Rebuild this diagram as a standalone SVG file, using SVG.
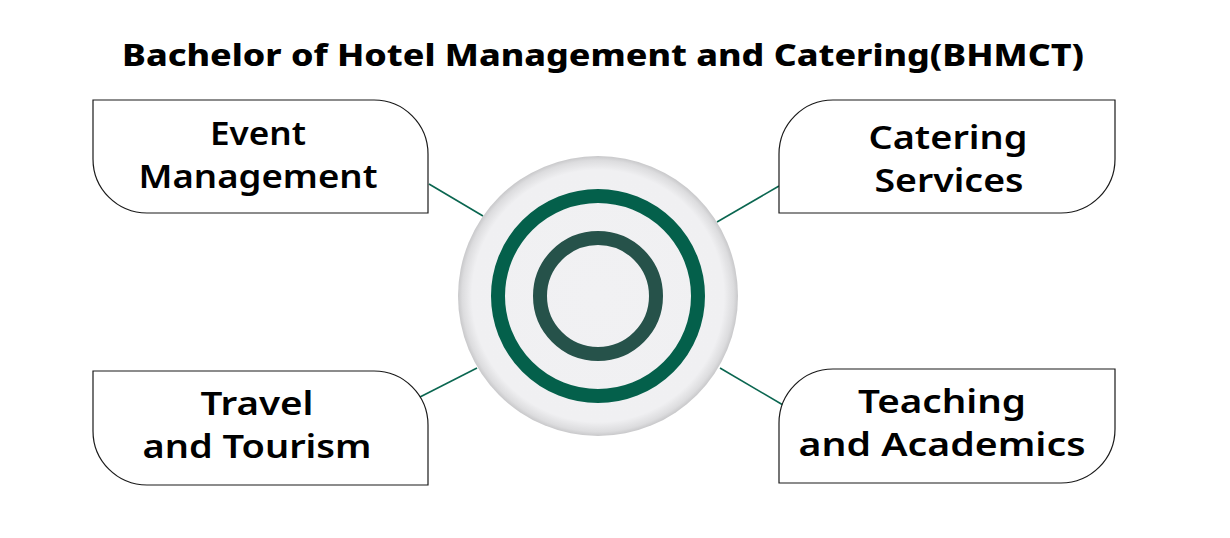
<svg xmlns="http://www.w3.org/2000/svg" width="1230" height="538" viewBox="0 0 1230 538">
<style>
.box{fill:#fff;stroke:#1a1a1a;stroke-width:1.2}
.lbl{font-family:"Noto Sans","Liberation Sans",sans-serif;font-weight:600;font-size:33px;fill:#000;text-anchor:middle}
.title{font-family:"Noto Sans","Liberation Sans",sans-serif;font-weight:800;font-size:31px;fill:#000;text-anchor:middle}
.conn{stroke:#0a6650;stroke-width:1.6;fill:none}
</style>
<defs>
<radialGradient id="disc" cx="0.5" cy="0.5" r="0.5">
<stop offset="0" stop-color="#f1f1f3"/>
<stop offset="0.9" stop-color="#f0f0f2"/>
<stop offset="0.97" stop-color="#dcdcde"/>
<stop offset="1" stop-color="#c8c8ca"/>
</radialGradient>
</defs>
<rect width="1230" height="538" fill="#fff"/>
<text class="title" x="603" y="66" textLength="962" lengthAdjust="spacingAndGlyphs">Bachelor of Hotel Management and Catering(BHMCT)</text>
<g id="connectors">
<line class="conn" x1="429" y1="184" x2="483" y2="216"/>
<line class="conn" x1="779" y1="186" x2="717" y2="222"/>
<line class="conn" x1="420" y1="397" x2="477" y2="368"/>
<line class="conn" x1="720" y1="368" x2="783" y2="405"/>
</g>
<g id="center">
<circle cx="598" cy="296" r="140" fill="url(#disc)"/>
<circle cx="598" cy="296" r="100" fill="none" stroke="#04604b" stroke-width="14"/>
<circle cx="598" cy="296" r="58" fill="none" stroke="#26524a" stroke-width="14"/>
</g>
<g id="event">
<path class="box" d="M93 100 H374 A54 54 0 0 1 428 154 V213 H147 A54 54 0 0 1 93 159 Z"/>
<text class="lbl" x="258" y="145" textLength="96" lengthAdjust="spacingAndGlyphs">Event</text>
<text class="lbl" x="258" y="188" textLength="239" lengthAdjust="spacingAndGlyphs">Management</text>
</g>
<g id="catering">
<path class="box" d="M833 100 H1115 V159 A54 54 0 0 1 1061 213 H779 V154 A54 54 0 0 1 833 100 Z"/>
<text class="lbl" x="948" y="149" textLength="159" lengthAdjust="spacingAndGlyphs">Catering</text>
<text class="lbl" x="949" y="192" textLength="149" lengthAdjust="spacingAndGlyphs">Services</text>
</g>
<g id="travel">
<path class="box" d="M93 371 H374 A54 54 0 0 1 428 425 V485 H147 A54 54 0 0 1 93 431 Z"/>
<text class="lbl" x="257" y="415" textLength="113" lengthAdjust="spacingAndGlyphs">Travel</text>
<text class="lbl" x="257" y="458" textLength="229" lengthAdjust="spacingAndGlyphs">and Tourism</text>
</g>
<g id="teaching">
<path class="box" d="M833 369 H1115 V429 A54 54 0 0 1 1061 483 H779 V423 A54 54 0 0 1 833 369 Z"/>
<text class="lbl" x="942" y="413" textLength="168" lengthAdjust="spacingAndGlyphs">Teaching</text>
<text class="lbl" x="942" y="456" textLength="287" lengthAdjust="spacingAndGlyphs">and Academics</text>
</g>
</svg>
